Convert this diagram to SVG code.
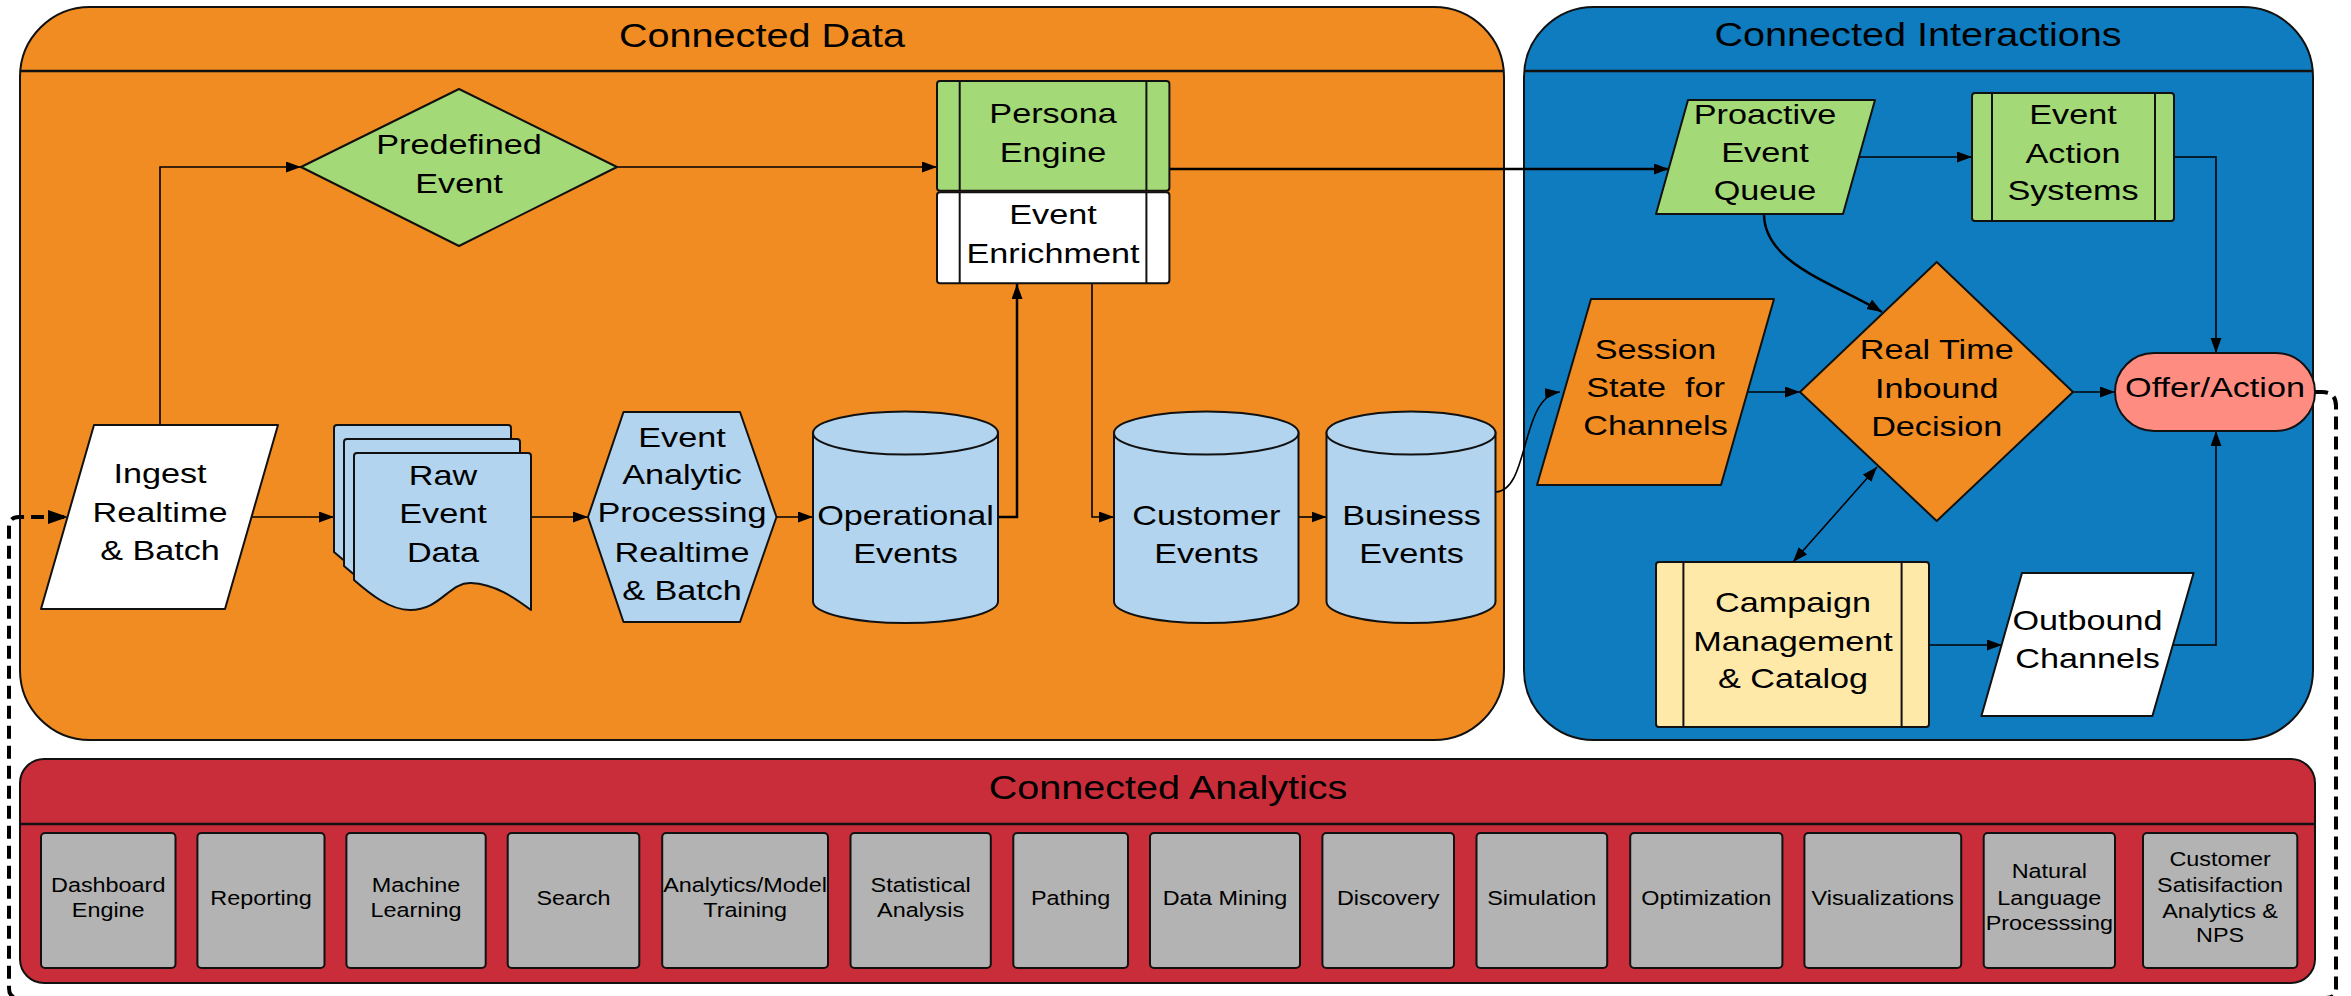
<svg xmlns="http://www.w3.org/2000/svg" width="2351" height="996" viewBox="0 0 2351 996">
<defs>
<style>
text{font-family:"Liberation Sans",Arial,sans-serif;fill:#000;text-anchor:middle}
.tt{font-size:33px}
.nt{font-size:28.5px}
.at{font-size:19.5px}
.sh{stroke:#111;stroke-width:2;stroke-linejoin:round}
.cont{stroke:#111;stroke-width:2}
.hdr{stroke:#111;stroke-width:2.5;fill:none}
.orange{fill:#F08C22}
.blue{fill:#0F7CBF}
.red{fill:#C92D3A}
.green{fill:#A3D977}
.lblue{fill:#B2D4EE}
.white{fill:#FFFFFF}
.yellow{fill:#FFE9A8}
.salmon{fill:#FF8C80}
.gray{fill:#B3B3B3}
.c{fill:none;stroke:#000;stroke-width:1.6}
.ck{fill:none;stroke:#000;stroke-width:2.5}
.dash{fill:none;stroke:#000;stroke-width:4;stroke-dasharray:13 7}
</style>
<marker id="arr" markerUnits="userSpaceOnUse" markerWidth="16" markerHeight="12" refX="15" refY="5.5" orient="auto">
<path d="M0,0 L15,5.5 L0,11 z" fill="#000"/>
</marker>
<marker id="arrs" markerUnits="userSpaceOnUse" markerWidth="16" markerHeight="12" refX="15" refY="5.5" orient="auto-start-reverse">
<path d="M0,0 L15,5.5 L0,11 z" fill="#000"/>
</marker>
<marker id="arrd" markerUnits="userSpaceOnUse" markerWidth="22" markerHeight="16" refX="20" refY="7" orient="auto">
<path d="M0,0 L20,7 L0,14 z" fill="#000"/>
</marker>
</defs>

<!-- Containers -->
<g id="connected-data">
<rect x="20" y="7" width="1484" height="733" rx="70" ry="70" class="orange cont"/>
<line x1="20" y1="71" x2="1504" y2="71" class="hdr"/>
<g transform="translate(762,0) scale(1.2,1)"><text class="tt" x="0" y="47">Connected Data</text></g>
</g>
<g id="connected-interactions">
<rect x="1524" y="7" width="789" height="733" rx="70" ry="70" class="blue cont"/>
<line x1="1524" y1="71" x2="2313" y2="71" class="hdr"/>
<g transform="translate(1918,0) scale(1.2,1)"><text class="tt" x="0" y="46">Connected Interactions</text></g>
</g>
<g id="connected-analytics">
<rect x="20" y="759" width="2295" height="224" rx="24" ry="24" class="red cont"/>
<line x1="20" y1="824" x2="2315" y2="824" class="hdr"/>
<g transform="translate(1168,0) scale(1.2,1)"><text class="tt" x="0" y="799">Connected Analytics</text></g>
</g>

<!-- Connectors -->
<g id="connectors">
<path d="M160,425 V167 H301" class="c" marker-end="url(#arr)"/>
<path d="M617,167 H937" class="c" marker-end="url(#arr)"/>
<path d="M1169,169 H1669" class="ck" marker-end="url(#arr)"/>
<path d="M251,517 H334" class="c" marker-end="url(#arr)"/>
<path d="M531,517 H588" class="c" marker-end="url(#arr)"/>
<path d="M776,517 H813" class="c" marker-end="url(#arr)"/>
<path d="M998,517 H1017 V284" class="ck" marker-end="url(#arr)"/>
<path d="M1092,284 V517 H1114" class="c" marker-end="url(#arr)"/>
<path d="M1298.5,517 H1326.5" class="c" marker-end="url(#arr)"/>
<path d="M1496,492 C1530,490 1520,396 1560,392" class="c" marker-end="url(#arr)"/>
<path d="M1859,157 H1972" class="c" marker-end="url(#arr)"/>
<path d="M2174,157 H2216 V353" class="c" marker-end="url(#arr)"/>
<path d="M1764,214 C1764,264 1836,284 1882,312" class="ck" marker-end="url(#arr)"/>
<path d="M1748,392 H1800" class="c" marker-end="url(#arr)"/>
<path d="M2073,392 H2115" class="c" marker-end="url(#arr)"/>
<path d="M1793,562 L1877,467" class="c" marker-start="url(#arrs)" marker-end="url(#arrs)"/>
<path d="M1929,645 H2002" class="c" marker-end="url(#arr)"/>
<path d="M2172,645 H2216 V431" class="c" marker-end="url(#arr)"/>
<path d="M2315,392 H2322 Q2336,392 2336,406 V988 Q2336,998 2326,998 H19 Q9,998 9,988 V527 Q9,517 19,517 H68" class="dash" marker-end="url(#arrd)"/>
</g>

<!-- Connected Data nodes -->
<g id="ingest">
<polygon points="94,425 278,425 225,609 41,609" class="sh white"/>
<g transform="translate(160,0) scale(1.2,1)"><text class="nt" x="0" y="483">Ingest</text><text class="nt" x="0" y="521.7">Realtime</text><text class="nt" x="0" y="560">&amp; Batch</text></g>
</g>
<g id="predefined-event">
<polygon points="301,167 459,89 617,167 459,246" class="sh green"/>
<g transform="translate(459,0) scale(1.2,1)"><text class="nt" x="0" y="154">Predefined</text><text class="nt" x="0" y="192.7">Event</text></g>
</g>
<g id="raw-event-data">
<path d="M334,428 Q334,425 337,425 H508 Q511,425 511,428 V582 C495,570 475,556 451,555 C429,554 421,582 390,582 C370,582 350,566 334,552 Z" class="sh lblue"/>
<path d="M344,442 Q344,439 347,439 H517 Q520,439 520,442 V596 C505,584 485,570 461,569 C439,568 431,596 400,596 C380,596 360,580 344,566 Z" class="sh lblue"/>
<path d="M354,456 Q354,453 357,453 H528 Q531,453 531,456 V610 C515,598 495,584 471,583 C449,582 441,610 410,610 C390,610 370,594 354,580 Z" class="sh lblue"/>
<g transform="translate(443,0) scale(1.2,1)"><text class="nt" x="0" y="485">Raw</text><text class="nt" x="0" y="523.3">Event</text><text class="nt" x="0" y="561.7">Data</text></g>
</g>
<g id="event-analytic-processing">
<polygon points="623.5,412 740,412 776.5,517 740,622 623.5,622 588,517" class="sh lblue"/>
<g transform="translate(682,0) scale(1.2,1)"><text class="nt" x="0" y="446.7">Event</text><text class="nt" x="0" y="484.3">Analytic</text><text class="nt" x="0" y="521.7">Processing</text><text class="nt" x="0" y="561.7">Realtime</text><text class="nt" x="0" y="600">&amp; Batch</text></g>
</g>
<g id="operational-events">
<path d="M813,433 V601.5 A92.5,21.5 0 0 0 998,601.5 V433 Z" class="sh lblue"/>
<ellipse cx="905.5" cy="433" rx="92.5" ry="21.5" class="sh lblue"/>
<g transform="translate(905.5,0) scale(1.2,1)"><text class="nt" x="0" y="525">Operational</text><text class="nt" x="0" y="563.3">Events</text></g>
</g>
<g id="persona-engine">
<rect x="937" y="81" width="232.4" height="109.7" rx="3" class="sh green"/>
<line x1="959.7" y1="81" x2="959.7" y2="190.7" class="sh"/>
<line x1="1146.4" y1="81" x2="1146.4" y2="190.7" class="sh"/>
<g transform="translate(1053,0) scale(1.2,1)"><text class="nt" x="0" y="123.3">Persona</text><text class="nt" x="0" y="161.7">Engine</text></g>
</g>
<g id="event-enrichment">
<rect x="937" y="192.3" width="232.4" height="91" rx="3" class="sh white"/>
<line x1="959.7" y1="192.3" x2="959.7" y2="283.3" class="sh"/>
<line x1="1146.4" y1="192.3" x2="1146.4" y2="283.3" class="sh"/>
<g transform="translate(1053,0) scale(1.2,1)"><text class="nt" x="0" y="224">Event</text><text class="nt" x="0" y="263.3">Enrichment</text></g>
</g>
<g id="customer-events">
<path d="M1114,433 V601.5 A92.25,21.5 0 0 0 1298.5,601.5 V433 Z" class="sh lblue"/>
<ellipse cx="1206.25" cy="433" rx="92.25" ry="21.5" class="sh lblue"/>
<g transform="translate(1206.4,0) scale(1.2,1)"><text class="nt" x="0" y="525">Customer</text><text class="nt" x="0" y="563.3">Events</text></g>
</g>
<g id="business-events">
<path d="M1326.5,433 V601.5 A84.5,21.5 0 0 0 1495.5,601.5 V433 Z" class="sh lblue"/>
<ellipse cx="1411" cy="433" rx="84.5" ry="21.5" class="sh lblue"/>
<g transform="translate(1411.5,0) scale(1.2,1)"><text class="nt" x="0" y="525">Business</text><text class="nt" x="0" y="563.3">Events</text></g>
</g>

<!-- Connected Interactions nodes -->
<g id="proactive-event-queue">
<polygon points="1688,100 1875,100 1843,214 1656,214" class="sh green"/>
<g transform="translate(1765,0) scale(1.2,1)"><text class="nt" x="0" y="124.3">Proactive</text><text class="nt" x="0" y="161.7">Event</text><text class="nt" x="0" y="200">Queue</text></g>
</g>
<g id="event-action-systems">
<rect x="1972" y="93" width="202" height="128" rx="3" class="sh green"/>
<line x1="1992" y1="93" x2="1992" y2="221" class="sh"/>
<line x1="2155" y1="93" x2="2155" y2="221" class="sh"/>
<g transform="translate(2073,0) scale(1.2,1)"><text class="nt" x="0" y="124">Event</text><text class="nt" x="0" y="162.7">Action</text><text class="nt" x="0" y="200">Systems</text></g>
</g>
<g id="session-state">
<polygon points="1591,299 1774,299 1721,485 1537,485" class="sh orange"/>
<g transform="translate(1655.5,0) scale(1.2,1)"><text class="nt" x="0" y="359.3">Session</text><text class="nt" x="0" y="396.7" xml:space="preserve">State  for</text><text class="nt" x="0" y="435">Channels</text></g>
</g>
<g id="real-time-inbound-decision">
<polygon points="1936.7,262 2073,392 1936.7,521 1800,392" class="sh orange"/>
<g transform="translate(1936.7,0) scale(1.2,1)"><text class="nt" x="0" y="359.3">Real Time</text><text class="nt" x="0" y="397.7">Inbound</text><text class="nt" x="0" y="435.7">Decision</text></g>
</g>
<g id="offer-action">
<rect x="2115" y="353" width="200" height="78" rx="39" ry="39" class="sh salmon"/>
<g transform="translate(2215,0) scale(1.2,1)"><text class="nt" x="0" y="396.7">Offer/Action</text></g>
</g>
<g id="campaign-management">
<rect x="1656" y="562" width="273" height="165" rx="3" class="sh yellow"/>
<line x1="1683.4" y1="562" x2="1683.4" y2="727" class="sh"/>
<line x1="1901.6" y1="562" x2="1901.6" y2="727" class="sh"/>
<g transform="translate(1793,0) scale(1.2,1)"><text class="nt" x="0" y="611.7">Campaign</text><text class="nt" x="0" y="650.7">Management</text><text class="nt" x="0" y="688.3">&amp; Catalog</text></g>
</g>
<g id="outbound-channels">
<polygon points="2022,573 2193.6,573 2152.4,716 1981.4,716" class="sh white"/>
<g transform="translate(2087.5,0) scale(1.2,1)"><text class="nt" x="0" y="630">Outbound</text><text class="nt" x="0" y="668.3">Channels</text></g>
</g>

<!-- Connected Analytics boxes -->
<g id="dashboard-engine"><rect x="41" y="833" width="134.5" height="135" rx="4" class="sh gray"/><g transform="translate(108.2,0) scale(1.2,1)"><text class="at" x="0" y="891.7">Dashboard</text><text class="at" x="0" y="916.7">Engine</text></g></g>
<g id="reporting"><rect x="197.4" y="833" width="127.1" height="135" rx="4" class="sh gray"/><g transform="translate(261,0) scale(1.2,1)"><text class="at" x="0" y="905">Reporting</text></g></g>
<g id="machine-learning"><rect x="346.4" y="833" width="139.3" height="135" rx="4" class="sh gray"/><g transform="translate(416,0) scale(1.2,1)"><text class="at" x="0" y="891.7">Machine</text><text class="at" x="0" y="916.7">Learning</text></g></g>
<g id="search"><rect x="507.7" y="833" width="131.6" height="135" rx="4" class="sh gray"/><g transform="translate(573.5,0) scale(1.2,1)"><text class="at" x="0" y="905">Search</text></g></g>
<g id="analytics-model-training"><rect x="662.2" y="833" width="165.8" height="135" rx="4" class="sh gray"/><g transform="translate(745.1,0) scale(1.2,1)"><text class="at" x="0" y="891.7">Analytics/Model</text><text class="at" x="0" y="916.7">Training</text></g></g>
<g id="statistical-analysis"><rect x="850.5" y="833" width="140.3" height="135" rx="4" class="sh gray"/><g transform="translate(920.6,0) scale(1.2,1)"><text class="at" x="0" y="891.7">Statistical</text><text class="at" x="0" y="916.7">Analysis</text></g></g>
<g id="pathing"><rect x="1013.3" y="833" width="114.7" height="135" rx="4" class="sh gray"/><g transform="translate(1070.6,0) scale(1.2,1)"><text class="at" x="0" y="905">Pathing</text></g></g>
<g id="data-mining"><rect x="1150" y="833" width="150" height="135" rx="4" class="sh gray"/><g transform="translate(1225,0) scale(1.2,1)"><text class="at" x="0" y="905">Data Mining</text></g></g>
<g id="discovery"><rect x="1322.4" y="833" width="131.6" height="135" rx="4" class="sh gray"/><g transform="translate(1388.2,0) scale(1.2,1)"><text class="at" x="0" y="905">Discovery</text></g></g>
<g id="simulation"><rect x="1476.5" y="833" width="130.7" height="135" rx="4" class="sh gray"/><g transform="translate(1541.8,0) scale(1.2,1)"><text class="at" x="0" y="905">Simulation</text></g></g>
<g id="optimization"><rect x="1630.2" y="833" width="152.2" height="135" rx="4" class="sh gray"/><g transform="translate(1706.3,0) scale(1.2,1)"><text class="at" x="0" y="905">Optimization</text></g></g>
<g id="visualizations"><rect x="1804.4" y="833" width="156.8" height="135" rx="4" class="sh gray"/><g transform="translate(1882.8,0) scale(1.2,1)"><text class="at" x="0" y="905">Visualizations</text></g></g>
<g id="natural-language-processing"><rect x="1983.7" y="833" width="131.3" height="135" rx="4" class="sh gray"/><g transform="translate(2049.3,0) scale(1.2,1)"><text class="at" x="0" y="878.3">Natural</text><text class="at" x="0" y="905">Language</text><text class="at" x="0" y="930">Processsing</text></g></g>
<g id="customer-satisfaction"><rect x="2143" y="833" width="154.3" height="135" rx="4" class="sh gray"/><g transform="translate(2220.1,0) scale(1.2,1)"><text class="at" x="0" y="866">Customer</text><text class="at" x="0" y="891.7">Satisifaction</text><text class="at" x="0" y="917.7">Analytics &amp;</text><text class="at" x="0" y="941.7">NPS</text></g></g>
</svg>
